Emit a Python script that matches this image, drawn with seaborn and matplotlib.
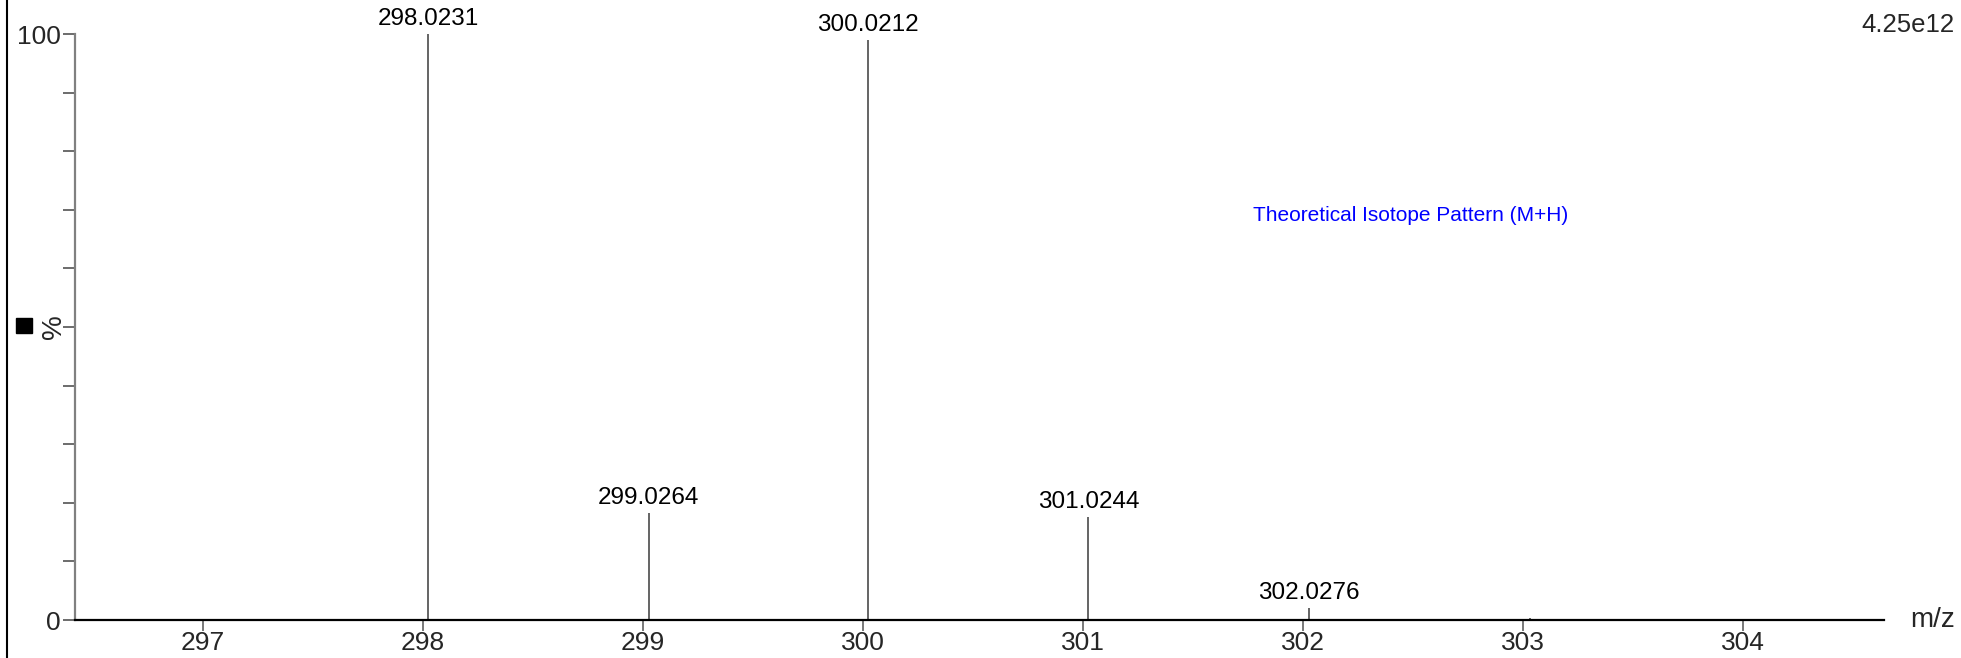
import numpy as np
import pandas as pd
import matplotlib
matplotlib.use("Agg")
import matplotlib.pyplot as plt
import seaborn as sns
from matplotlib.lines import Line2D
from matplotlib.ticker import MultipleLocator

# theoretical isotope pattern (M+H), relative intensity in %
mz = [298.0231, 299.0264, 300.0212, 301.0244, 302.0276, 303.0300]
intensity = [100.0, 18.2, 99.0, 17.6, 2.0, 0.3]
peak_labels = ["298.0231", "299.0264", "300.0212", "301.0244", "302.0276", ""]
x_ticks = [297, 298, 299, 300, 301, 302, 303, 304]

peaks = pd.DataFrame({"mz": mz, "intensity": intensity, "label": peak_labels})

sns.set_style("white")
plt.rcParams["font.family"] = ["Liberation Sans Narrow", "Liberation Sans", "DejaVu Sans"]

fig = plt.figure(figsize=(19.61, 6.58), dpi=100)
ax = fig.add_axes([75 / 1961, 38 / 658, (1884 - 75) / 1961, (620 - 34) / 658])

# stick spectrum
ax.vlines(peaks["mz"], 0, peaks["intensity"], color="#3a3a3a", lw=1.1, clip_on=False)
for _, row in peaks.iterrows():
    if row["label"]:
        ax.annotate(row["label"], (row["mz"], row["intensity"]), xytext=(0, 3),
                    textcoords="offset points", ha="center", va="bottom",
                    fontsize=17.5, color="black", annotation_clip=False)

ax.set_xlim(296.418, 304.641)
ax.set_ylim(0, 100)
ax.set_xticks(x_ticks)
ax.set_xticklabels([str(t) for t in x_ticks])
ax.set_yticks([0, 100])
ax.set_yticklabels(["0", "100"])
ax.yaxis.set_minor_locator(MultipleLocator(10))

sns.despine(ax=ax, top=True, right=True)
ax.spines["left"].set_color("#808080")
ax.spines["left"].set_linewidth(1.6)
ax.spines["bottom"].set_color("black")
ax.spines["bottom"].set_linewidth(1.6)

ax.tick_params(axis="x", direction="out", length=8, width=1.1, color="#555555",
               labelsize=19, pad=0, bottom=True)
ax.tick_params(axis="y", which="major", direction="out", length=9, width=1.1,
               color="#444444", labelsize=19, pad=1, left=True)
ax.tick_params(axis="y", which="minor", direction="out", length=9, width=1.1,
               color="#444444", left=True)

ax.text(302.49, 69, "Theoretical Isotope Pattern (M+H)", color="#0000ff",
        fontsize=15, ha="center", va="center")

fig.text(1910 / 1961, 1 - 620 / 658, "m/z", fontsize=20, ha="left", va="center")
fig.text(1955 / 1961, 1 - 25 / 658, "4.25e12", fontsize=18.5, ha="right", va="center")
fig.text(54 / 1961, 1 - 327 / 658, "%", fontsize=20, rotation=90, ha="center", va="center")

# little black marker square and left frame line
fig.patches.append(plt.Rectangle((16 / 1961, 1 - 333 / 658), 16 / 1961, 15 / 658,
                                 transform=fig.transFigure, color="black"))
fig.lines.append(Line2D([7 / 1961, 7 / 1961], [0, 1], transform=fig.transFigure,
                        color="black", lw=1.5))

fig.savefig("out.png", dpi=100, facecolor="white")
